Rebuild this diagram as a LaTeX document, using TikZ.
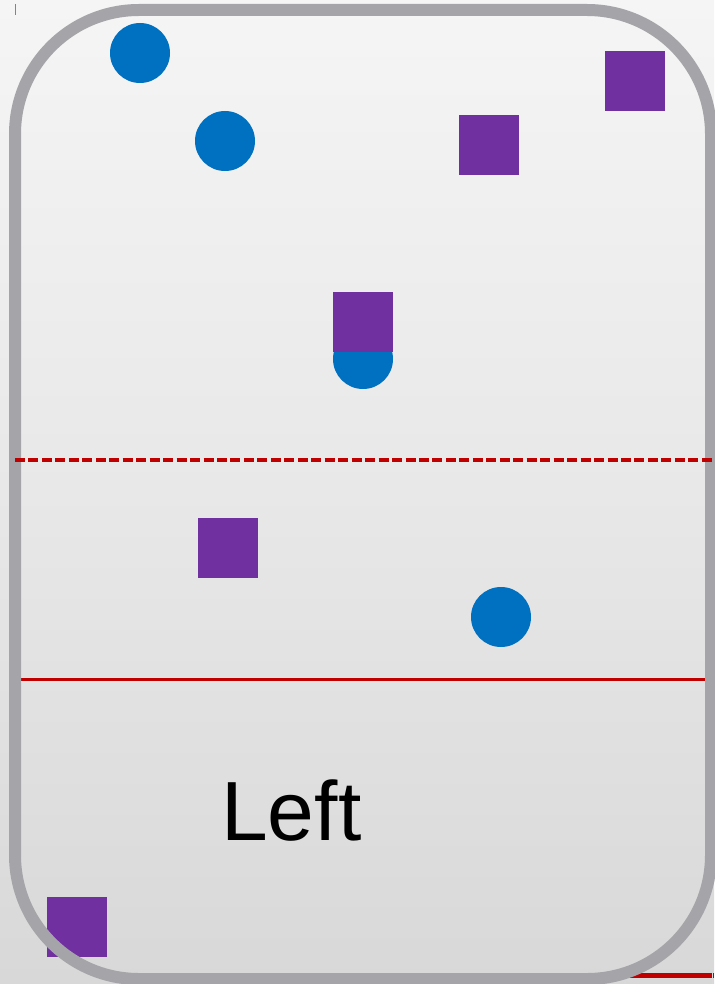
\documentclass[tikz,border=0pt]{standalone}
\usepackage{fontspec}
\setmainfont{Liberation Sans}
\definecolor{dotblue}{HTML}{0070C0}
\definecolor{sqpurple}{HTML}{7030A0}
\definecolor{framegray}{HTML}{A5A4A8}
\definecolor{linered}{HTML}{C00000}
\definecolor{bgtop}{HTML}{F5F5F5}
\definecolor{bgbot}{HTML}{D8D8D8}
\begin{document}
\begin{tikzpicture}[x=0.75pt,y=-0.75pt,
  bluedot/.style={circle,fill=dotblue,draw=none,inner sep=0pt,minimum size=45pt},
  purplesq/.style={rectangle,fill=sqpurple,draw=none,inner sep=0pt,minimum size=45pt},
  frame/.style={draw=framegray,line width=9pt,rounded corners=93pt},
  redline/.style={draw=linered,line width=2.4pt},
  reddash/.style={draw=linered,line width=2.4pt,dash pattern=on 7.5pt off 2.6pt},
  tick/.style={draw=framegray!80!black,line width=0.6pt}]
\useasboundingbox (0,0) rectangle (714,984);
\shade[top color=bgtop,bottom color=bgbot,middle color=bgtop!55!bgbot] (0,0) rectangle (714,984);
% lines behind the frame
\coordinate (bl) at (127,975.5);
\coordinate (br) at (714,975.5);
\draw[redline,line width=3.2pt] (bl) -- (br);
\coordinate (sl) at (15,679.5);
\coordinate (sr) at (711,679.5);
\draw[redline] (sl) -- (sr);
% shapes
\node[purplesq] (s6) at (77,927) {};
\node[bluedot] (c4) at (363,359) {};
\node[purplesq] (s3) at (363,322) {};
\node[bluedot] (c1) at (140,53) {};
\node[bluedot] (c2) at (225,141) {};
\node[bluedot] (c3) at (501,617) {};
\node[purplesq] (s1) at (635,81) {};
\node[purplesq] (s2) at (489,145) {};
\node[purplesq] (s4) at (228,548) {};
% frame
\draw[frame] (15,10) rectangle (711,979);
% dashed line on top
\coordinate (dl) at (15,460);
\coordinate (dr) at (714,460);
\draw[reddash] (dl) -- (dr);
% ticks
\coordinate (t1a) at (15,4); \coordinate (t1b) at (15,15);
\draw[tick] (t1a) -- (t1b);
\coordinate (t2a) at (712,973); \coordinate (t2b) at (712,984);
\draw[tick,draw=framegray!40!white] (t2a) -- (t2b);
% label
\node[anchor=base west,inner sep=0pt,font=\fontsize{63}{63}\selectfont] (lbl) at (221,840) {Left};
\end{tikzpicture}
\end{document}
